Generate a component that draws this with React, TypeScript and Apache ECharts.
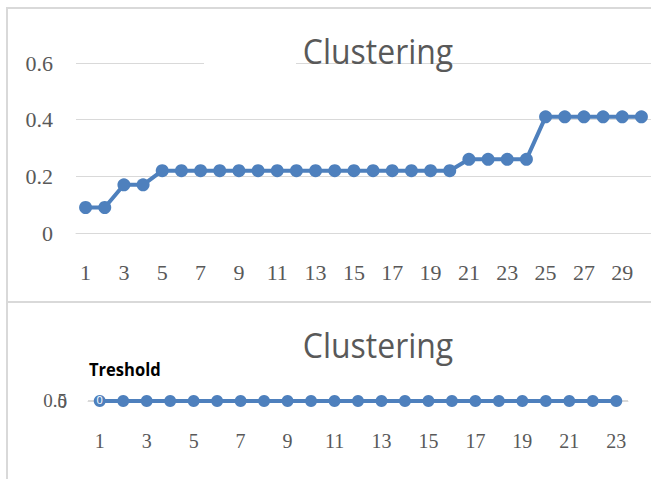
import React, { useEffect, useRef } from "react";
import * as echarts from "echarts";

const topCategories = Array.from({ length: 30 }, (_, i) => String(i + 1));
const topValues = [
  0.09, 0.09, 0.17, 0.17, 0.22, 0.22, 0.22, 0.22, 0.22, 0.22,
  0.22, 0.22, 0.22, 0.22, 0.22, 0.22, 0.22, 0.22, 0.22, 0.22,
  0.26, 0.26, 0.26, 0.26, 0.41, 0.41, 0.41, 0.41, 0.41, 0.41,
];
const bottomCategories = Array.from({ length: 23 }, (_, i) => String(i + 1));
const bottomValues = [
  0, 0, 0, 0, 0, 0, 0, 0, 0, 0, 0, 0, 0, 0, 0, 0, 0, 0, 0, 0, 0, 0, 0,
];
const titleText = "Clustering";
const thresholdText = "Treshold";

const BLUE = "#4E80BD";
const GRAY = "#595959";
const GRID = "#D9D9D9";
const SERIF = "'Liberation Serif', 'DejaVu Serif', serif";
const SANS = "'Open Sans', 'Noto Sans', sans-serif";

const bottomYAxisBase = {
  type: "value",
  gridIndex: 1,
  min: 0,
  max: 0.5,
  interval: 0.5,
  position: "left",
  offset: 0,
  axisLine: { show: false },
  axisTick: { show: false },
};

export default function App() {
  const ref = useRef<HTMLDivElement>(null);
  useEffect(() => {
    document.body.style.margin = "0";
    const chart = echarts.init(ref.current!, null, { renderer: "svg" });
    chart.setOption({
      animation: false,
      backgroundColor: "#ffffff",
      grid: [
        { left: 76, top: 63, width: 576, height: 170 },
        { left: 88, top: 400, width: 540, height: 1 },
      ],
      xAxis: [
        {
          type: "category",
          gridIndex: 0,
          data: topCategories,
          boundaryGap: true,
          axisLine: { show: true, lineStyle: { color: GRID, width: 1 } },
          axisTick: { show: false },
          axisLabel: {
            interval: 1,
            margin: 28,
            color: GRAY,
            fontSize: 22,
            fontFamily: SERIF,
          },
        },
        {
          type: "category",
          gridIndex: 1,
          data: bottomCategories,
          boundaryGap: true,
          axisLine: { show: true, lineStyle: { color: GRID, width: 1 } },
          axisTick: { show: false },
          axisLabel: {
            interval: 1,
            margin: 30,
            color: GRAY,
            fontSize: 20,
            fontFamily: SERIF,
          },
        },
      ],
      yAxis: [
        {
          type: "value",
          gridIndex: 0,
          min: 0,
          max: 0.6,
          interval: 0.2,
          axisLine: { show: false },
          axisTick: { show: false },
          splitLine: { show: true, lineStyle: { color: GRID, width: 1 } },
          axisLabel: {
            margin: 23,
            color: GRAY,
            fontSize: 22,
            fontFamily: SERIF,
          },
        },
        {
          ...bottomYAxisBase,
          splitLine: { show: true, lineStyle: { color: GRID, width: 1 } },
          axisLabel: {
            margin: 21,
            color: GRAY,
            fontSize: 19,
            fontFamily: SERIF,
            showMinLabel: true,
            showMaxLabel: false,
          },
        },
        {
          ...bottomYAxisBase,
          splitLine: { show: false },
          axisLabel: {
            margin: 21,
            color: GRAY,
            fontSize: 19,
            fontFamily: SERIF,
            showMinLabel: false,
            showMaxLabel: true,
          },
        },
      ],
      series: [
        {
          type: "line",
          xAxisIndex: 0,
          yAxisIndex: 0,
          data: topValues,
          symbol: "circle",
          symbolSize: 13,
          showAllSymbol: true,
          lineStyle: { color: BLUE, width: 4 },
          itemStyle: { color: BLUE },
        },
        {
          type: "line",
          xAxisIndex: 1,
          yAxisIndex: 1,
          data: bottomValues.map((v, i) =>
            i === 0
              ? {
                  value: v,
                  label: {
                    show: true,
                    position: "inside",
                    color: "#ffffff",
                    fontSize: 11,
                    fontFamily: SANS,
                    formatter: "0",
                    offset: [0, -2],
                  },
                }
              : v
          ),
          symbol: "circle",
          symbolSize: 12,
          showAllSymbol: true,
          lineStyle: { color: BLUE, width: 4 },
          itemStyle: { color: BLUE },
        },
      ],
      graphic: [
        {
          type: "rect",
          shape: { x: 204, y: 58, width: 92, height: 10 },
          style: { fill: "#ffffff" },
          z: 50,
        },
        {
          type: "text",
          x: 378,
          y: 51,
          scaleX: 0.94,
          style: {
            text: titleText,
            fill: GRAY,
            font: `34px ${SANS}`,
            textAlign: "center",
            textVerticalAlign: "middle",
          },
          z: 60,
        },
        {
          type: "text",
          x: 378,
          y: 345,
          scaleX: 0.94,
          style: {
            text: titleText,
            fill: GRAY,
            font: `34px ${SANS}`,
            textAlign: "center",
            textVerticalAlign: "middle",
          },
          z: 60,
        },
        {
          type: "text",
          x: 89,
          y: 369,
          scaleX: 0.92,
          style: {
            text: thresholdText,
            fill: "#000000",
            font: `bold 18px ${SANS}`,
            textAlign: "left",
            textVerticalAlign: "middle",
          },
          z: 60,
        },
        {
          type: "line",
          shape: { x1: 7, y1: 8, x2: 7, y2: 479 },
          style: { stroke: GRID, lineWidth: 2 },
          z: 60,
        },
        {
          type: "line",
          shape: { x1: 6, y1: 8, x2: 651, y2: 8 },
          style: { stroke: GRID, lineWidth: 2 },
          z: 60,
        },
        {
          type: "line",
          shape: { x1: 6, y1: 302, x2: 651, y2: 302 },
          style: { stroke: GRID, lineWidth: 2 },
          z: 60,
        },
      ],
    });
    return () => chart.dispose();
  }, []);
  return (
    <div
      ref={ref}
      style={{ position: "absolute", left: 0, top: 0, width: 651, height: 479 }}
    />
  );
}
